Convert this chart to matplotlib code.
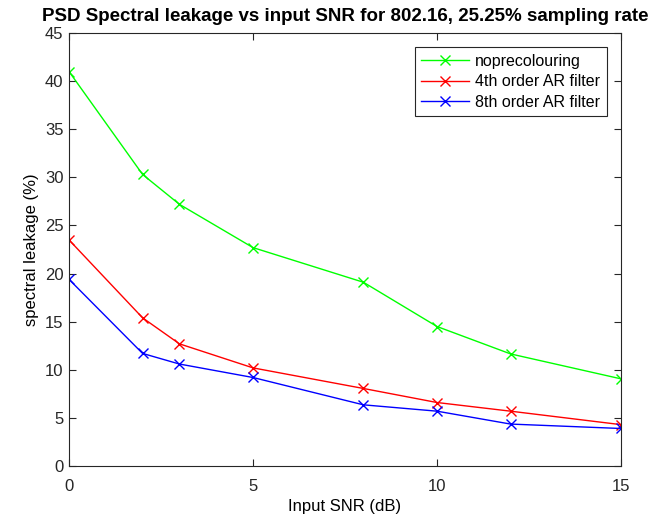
import numpy as np
import matplotlib.pyplot as plt

plt.rcParams['font.family'] = ['Liberation Sans', 'DejaVu Sans']

snr_db = [0, 2, 3, 5, 8, 10, 12, 15]
leak_noprecolour = [41.0, 30.3, 27.2, 22.7, 19.1, 14.5, 11.65, 9.06]
leak_ar4 = [23.5, 15.4, 12.7, 10.2, 8.06, 6.6, 5.7, 4.3]
leak_ar8 = [19.4, 11.7, 10.6, 9.2, 6.36, 5.7, 4.36, 3.9]

series = [
    ("noprecolouring", leak_noprecolour, "#00ff00"),
    ("4th order AR filter", leak_ar4, "#ff0000"),
    ("8th order AR filter", leak_ar8, "#0000ff"),
]

fig = plt.figure(figsize=(6.66, 5.2), dpi=100)
ax = fig.add_axes([0.1036, 0.1038, 0.8288, 0.8327])

for label, vals, col in series:
    ax.plot(snr_db, vals, color=col, marker="x", markersize=7,
            linewidth=1.0, markeredgewidth=1.0, label=label)

ax.set_xlim(0, 15)
ax.set_ylim(0, 45)
ax.set_xticks([0, 5, 10, 15])
ax.set_yticks(np.arange(0, 46, 5))
ax.tick_params(direction="in", top=True, right=True, labelsize=12,
               length=5, width=0.8, colors="#262626")
ax.tick_params(axis="x", pad=9)
ax.tick_params(axis="y", pad=4)
for sp in ax.spines.values():
    sp.set_color("#262626")
    sp.set_linewidth(0.8)

ax.set_xlabel("Input SNR (dB)", fontsize=12, labelpad=4)
ax.set_ylabel("spectral leakage (%)", fontsize=12)
ax.set_title("PSD Spectral leakage vs input SNR for 802.16, 25.25% sampling rate",
             fontsize=13.5, fontweight="bold", pad=9)

leg = ax.legend(loc="upper right", fontsize=11.5, fancybox=False,
                framealpha=1, edgecolor="#262626", borderaxespad=0.9,
                handlelength=3.0, handletextpad=0.4, labelspacing=0.35)
leg.get_frame().set_linewidth(0.8)

fig.savefig("out.png", dpi=100)
